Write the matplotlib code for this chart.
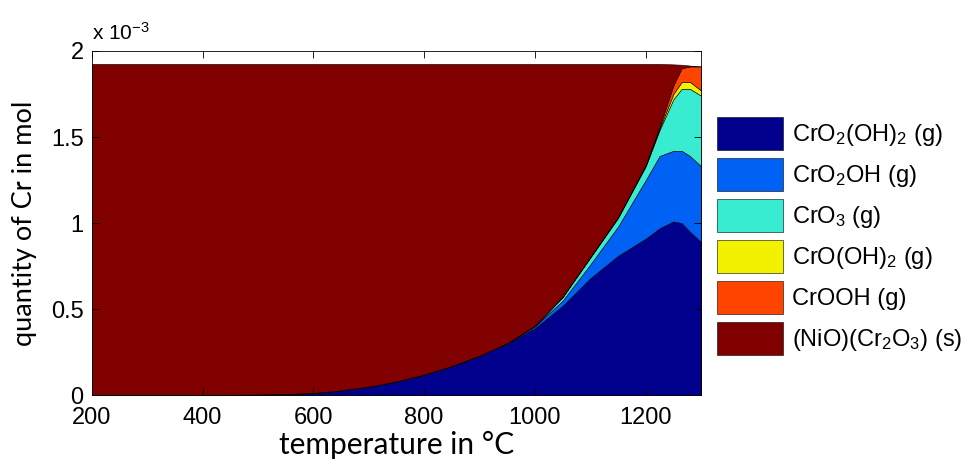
import numpy as np
import matplotlib
matplotlib.use("Agg")
import matplotlib.pyplot as plt

plt.rcParams["font.family"] = ["Liberation Sans", "DejaVu Sans"]
plt.rcParams["mathtext.fontset"] = "custom"
plt.rcParams["mathtext.rm"] = "Liberation Sans"
plt.rcParams["mathtext.default"] = "regular"

# ---- data (quantities in 1e-3 mol) -----------------------------------------
temp = [200, 400, 500, 550, 600, 650, 700, 750, 800, 850, 900, 950, 1000,
        1050, 1100, 1150, 1200, 1225, 1250, 1265, 1280, 1300]
cro2oh2 = [0, 0.001, 0.004, 0.007, 0.013, 0.028, 0.05, 0.08, 0.12, 0.17, 0.23, 0.30, 0.39,
           0.52, 0.68, 0.81, 0.91, 0.97, 1.01, 1.00, 0.95, 0.89]
cro2oh = [0, 0, 0, 0, 0, 0, 0, 0, 0, 0, 0, 0.003, 0.01,
          0.03, 0.08, 0.17, 0.34, 0.42, 0.41, 0.42, 0.44, 0.44]
cro3 = [0, 0, 0, 0, 0, 0, 0, 0, 0, 0, 0, 0, 0.003,
        0.02, 0.04, 0.05, 0.08, 0.15, 0.30, 0.36, 0.39, 0.41]
croh2 = [0, 0, 0, 0, 0, 0, 0, 0, 0, 0, 0, 0, 0.001,
         0.002, 0.003, 0.004, 0.005, 0.01, 0.03, 0.04, 0.04, 0.03]
crooh = [0, 0, 0, 0, 0, 0, 0, 0, 0, 0, 0, 0, 0,
         0, 0, 0, 0.003, 0.01, 0.05, 0.08, 0.09, 0.14]
nio_cr2o3 = [1.925, 1.924, 1.921, 1.918, 1.912, 1.897, 1.875, 1.845, 1.805, 1.755, 1.695, 1.622, 1.521,
             1.353, 1.122, 0.891, 0.587, 0.365, 0.122, 0.02, 0.005, 0.0]

labels = [r"CrO$_2$(OH)$_2$ (g)", r"CrO$_2$OH (g)", r"CrO$_3$ (g)",
          r"CrO(OH)$_2$ (g)", r"CrOOH (g)", r"(NiO)(Cr$_2$O$_3$) (s)"]
colors = ["#00008c", "#0062f5", "#38ecd2", "#f2f200", "#ff4400", "#800000"]

fig = plt.figure(figsize=(9.67, 4.59), dpi=100)
ax = fig.add_axes([0.095, 0.139, 0.63, 0.75])
ax.stackplot(temp, cro2oh2, cro2oh, cro3, croh2, crooh, nio_cr2o3,
             colors=colors, labels=labels, edgecolor="black", linewidth=0.4)

ax.set_xlim(200, 1300)
ax.set_ylim(0, 2)
ax.set_xticks([200, 400, 600, 800, 1000, 1200])
ax.set_yticks([0, 0.5, 1, 1.5, 2])
ax.set_yticklabels(["0", "0.5", "1", "1.5", "2"])
ax.tick_params(direction="in", top=True, right=True, labelsize=17, length=5, width=0.6)
ax.tick_params(axis="x", pad=8.5)
ax.tick_params(axis="y", pad=6)
for s in ax.spines.values():
    s.set_linewidth(0.6)
ax.text(0.0, 1.02, r"x 10$^{-3}$", transform=ax.transAxes, fontsize=15, ha="left", va="bottom")

ax.set_xlabel("temperature in °C", fontsize=21.5, family=["Lato", "DejaVu Sans"], labelpad=1)
ax.set_ylabel("quantity of Cr in mol", fontsize=19.5, family=["Lato", "DejaVu Sans"], labelpad=10)

fig.legend(loc="center left", bbox_to_anchor=(0.7415, 0.486), frameon=False, fontsize=17,
           handlelength=2.8, handleheight=1.77, labelspacing=0.34, handletextpad=0.38,
           borderaxespad=0, borderpad=0)

fig.savefig("out.png", dpi=100)
